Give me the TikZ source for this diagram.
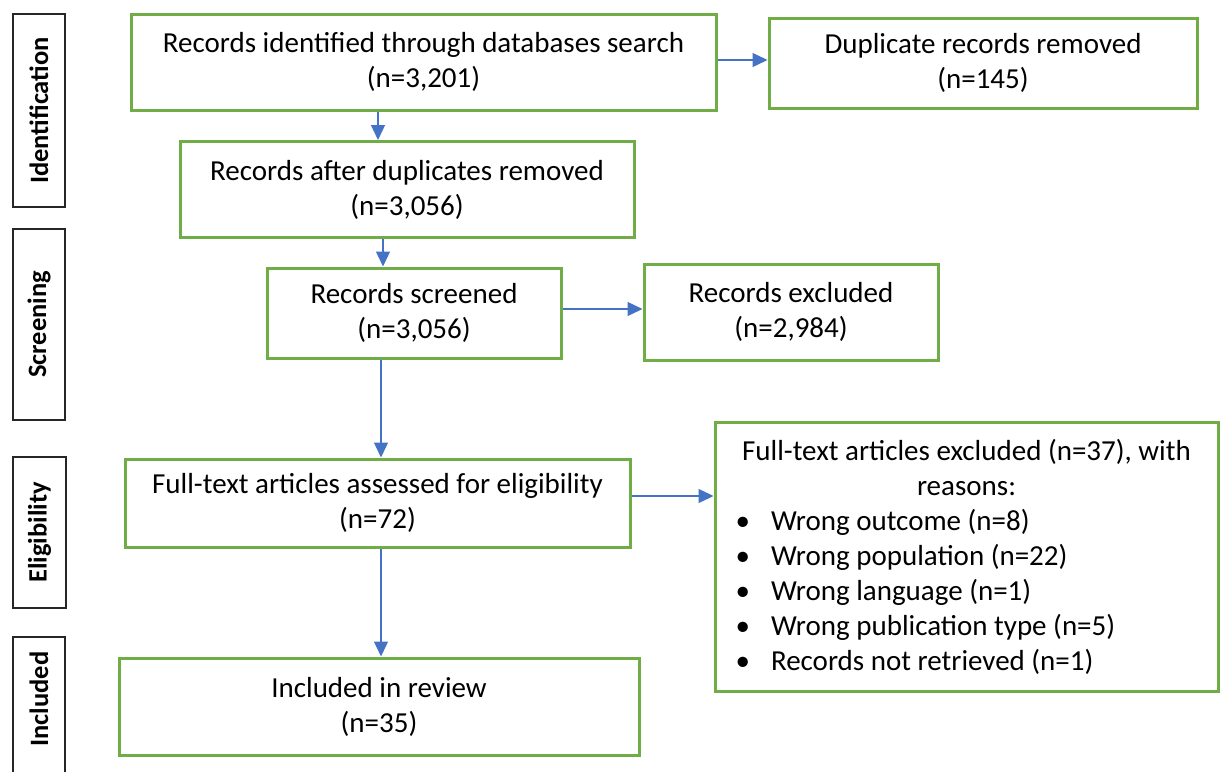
\documentclass[tikz,border=0pt]{standalone}
\usepackage{fontspec}
\setmainfont{Carlito}
\usetikzlibrary{arrows.meta}
\definecolor{boxgreen}{HTML}{70AD47}
\definecolor{arrowblue}{HTML}{4472C4}
\newcommand{\reasonline}[1]{\makebox[490pt][l]{\hspace*{14pt}\makebox[35.5pt][l]{\textbullet}#1}}
\begin{document}
\begin{tikzpicture}[x=1pt,y=-1pt,
  gbox/.style={draw=boxgreen, line width=3pt, fill=white, inner sep=0pt, align=center,
    font=\fontsize{29}{35}\selectfont},
  phase/.style={draw=black!85, line width=1.5pt, rotate=90, inner sep=0pt,
    font=\fontsize{26.5}{31}\selectfont\bfseries},
  arr/.style={draw=arrowblue, line width=1.3pt, -{Triangle[length=15pt,width=14pt]}}
]
\useasboundingbox[fill=white] (0,0) rectangle (1225,771);

% phase labels
\node[phase, minimum width=193pt, minimum height=52pt] (pid) at (39,110.5) {Identification};
\node[phase, minimum width=191pt, minimum height=52pt] (pscr) at (39,324.5) {Screening};
\node[phase, minimum width=151pt, minimum height=53pt] (pel) at (39.5,532.5) {Eligibility};
\node[phase, minimum width=146pt, minimum height=52pt] (pinc) at (39,710) {\hspace*{22pt}Included};

% main boxes
\node[gbox, minimum width=585pt, minimum height=96pt] (b1) at (423.5,62) {Records identified through databases search\\(n=3,201)};
\node[gbox, minimum width=428pt, minimum height=90pt] (dup) at (983,63) {Duplicate records removed\\(n=145)};
\node[gbox, minimum width=454pt, minimum height=96pt] (b2) at (407,189.5) {Records after duplicates removed\\(n=3,056)};
\node[gbox, minimum width=294pt, minimum height=90pt] (b3) at (414,313) {Records screened\\(n=3,056)};
\node[gbox, minimum width=294pt, minimum height=96pt] (exc) at (791,312) {Records excluded\\(n=2,984)};
\node[gbox, minimum width=505pt, minimum height=88pt] (b4) at (377.5,503) {Full-text articles assessed for eligibility\\(n=72)};
\node[gbox, minimum width=503pt, minimum height=269pt] (ftx) at (966.5,556.5) {Full-text articles excluded (n=37), with\\reasons:\\
\reasonline{Wrong outcome (n=8)}\\
\reasonline{Wrong population (n=22)}\\
\reasonline{Wrong language (n=1)}\\
\reasonline{Wrong publication type (n=5)}\\
\reasonline{Records not retrieved (n=1)}};
\node[gbox, minimum width=520pt, minimum height=97pt] (b5) at (379,706.5) {Included in review\\(n=35)};

% connector guide coordinates
\coordinate (v1) at (378,0);
\coordinate (v2) at (383,0);
\coordinate (v3) at (381,0);
\coordinate (h1) at (0,60);
\coordinate (h2) at (0,309);
\coordinate (h3) at (0,496);

% connectors
\draw[arr] (b1.south -| v1) -- (b2.north -| v1);
\draw[arr] (b2.south -| v2) -- (b3.north -| v2);
\draw[arr] (b3.south -| v3) -- (b4.north -| v3);
\draw[arr] (b4.south -| v3) -- (b5.north -| v3);
\draw[arr] (b1.east |- h1) -- (dup.west |- h1);
\draw[arr] (b3.east |- h2) -- (exc.west |- h2);
\draw[arr] (b4.east |- h3) -- (ftx.west |- h3);
\end{tikzpicture}
\end{document}
